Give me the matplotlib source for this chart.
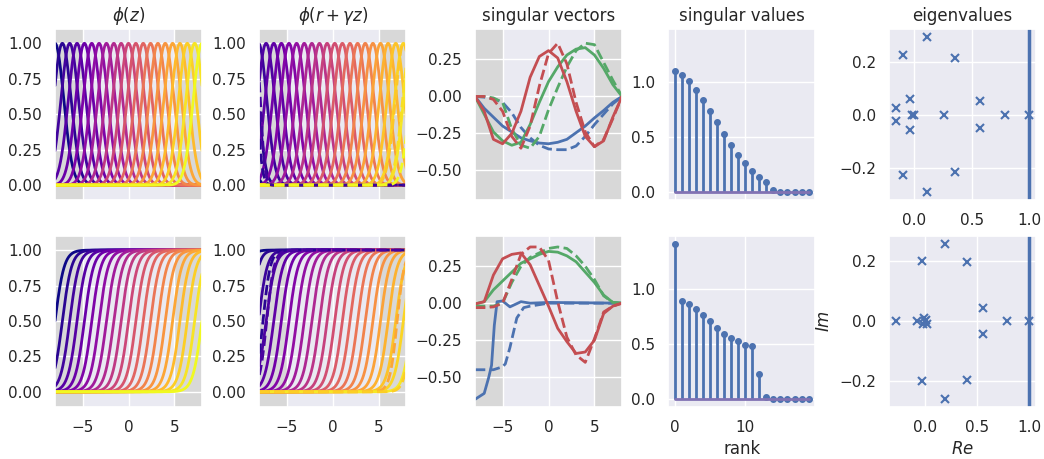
import numpy as np
import matplotlib
matplotlib.use("Agg")
import matplotlib.pyplot as plt
import seaborn as sns

sns.set_theme(style="darkgrid", context="notebook")

# basis function centres / widths
phi_centers = [-8.0, -7.2, -6.4, -5.6, -4.8, -4.0, -3.2, -2.4, -1.6, -0.8, 0.0,
               0.8, 1.6, 2.4, 3.2, 4.0, 4.8, 5.6, 6.4, 7.2, 8.0]
phi_width = 0.95
sig_scale = 0.5

# phi(r + gamma z): solid curves
rg_centers = [-9.75, -8.92, -8.09, -7.26, -6.43, -5.6, -4.77, -3.94, -3.11, -2.28,
              -1.45, -0.62, 0.21, 1.04, 1.87, 2.7, 3.53, 4.36, 5.19, 6.02, 6.85,
              7.68, 8.6]
rg_widths = [0.7, 0.8, 0.9, 0.95, 0.95, 0.95, 0.95, 0.95, 0.95, 0.95, 0.95, 0.95,
             0.95, 0.95, 0.95, 0.95, 0.95, 0.95, 0.95, 0.95, 0.95, 0.95, 0.9]
# dashed curves
rg_dash_centers = [-8.9, -8.4, 7.7, 8.5, 9.3]
rg_dash_widths = [0.6, 0.5, 0.9, 0.9, 0.9]
rg_dash_colors = [0.05, 0.1, 0.88, 0.94, 1.0]
rg_sig_dash_centers = [-7.6, -7.2, 7.0, 8.6]
rg_sig_dash_colors = [0.05, 0.12, 0.8, 0.9]

# singular vectors
sv_z = [-8, -7, -6, -5, -4, -3, -2, -1, 0, 1, 2, 3, 4, 5, 6, 7, 8]
sv_top_blue = [0, -0.08, -0.14, -0.20, -0.24, -0.28, -0.30, -0.315, -0.32, -0.31,
               -0.29, -0.245, -0.20, -0.145, -0.095, -0.04, 0]
sv_top_blue_d = [0, -0.005, -0.015, -0.04, -0.11, -0.21, -0.28, -0.33, -0.355, -0.36,
                 -0.36, -0.335, -0.27, -0.19, -0.12, -0.05, 0]
sv_top_green = [0, -0.12, -0.24, -0.30, -0.33, -0.31, -0.19, -0.04, 0.10, 0.20,
                0.28, 0.32, 0.33, 0.28, 0.19, 0.08, 0]
sv_top_green_d = [0, 0, -0.01, -0.04, -0.22, -0.33, -0.35, -0.27, -0.09, 0.06,
                  0.20, 0.31, 0.36, 0.35, 0.23, 0.11, 0]
sv_top_red = [0, -0.10, -0.29, -0.32, -0.25, -0.10, 0.13, 0.27, 0.31, 0.26,
              0.10, -0.10, -0.27, -0.34, -0.30, -0.14, 0]
sv_top_red_d = [0, 0, -0.02, -0.10, -0.27, -0.35, -0.20, 0.07, 0.29, 0.36,
                0.22, -0.04, -0.24, -0.34, -0.29, -0.15, 0]

sv_bot_blue_z = [-8, -7, -6.5, -6.2, -5.9, -5.6, -5, -4.2, -3, -2, 0, 8]
sv_bot_blue = [-0.65, -0.61, -0.50, -0.42, -0.15, 0.01, 0.015, -0.025, 0.01, 0.0, 0.005, 0.0]
sv_bot_blue_d_z = [-8, -6, -5, -4.7, -4.2, -3.45, -2.7, -2, -1, 0, 8]
sv_bot_blue_d = [-0.45, -0.45, -0.43, -0.41, -0.30, -0.10, -0.03, -0.02, -0.01, 0.0, 0.0]
sv_bot_green = [-0.005, 0.01, 0.09, 0.15, 0.21, 0.27, 0.30, 0.33, 0.35, 0.345,
                0.32, 0.28, 0.21, 0.14, 0.055, 0.005, 0]
sv_bot_green_d = [-0.02, -0.02, -0.02, 0.0, 0.14, 0.25, 0.31, 0.34, 0.37, 0.38,
                  0.37, 0.32, 0.25, 0.16, 0.05, 0.005, 0]
sv_bot_red = [-0.005, 0.01, 0.19, 0.30, 0.33, 0.34, 0.26, 0.12, -0.02, -0.17,
              -0.26, -0.34, -0.33, -0.25, -0.07, -0.02, 0]
sv_bot_red_d = [-0.03, -0.03, -0.025, 0.0, 0.16, 0.33, 0.38, 0.38, 0.29, 0.01,
                -0.23, -0.35, -0.40, -0.24, -0.06, -0.02, 0]

# singular values
ranks = list(range(20))
sval_top = [1.106, 1.07, 1.012, 0.933, 0.842, 0.739, 0.636, 0.533, 0.433, 0.342,
            0.264, 0.194, 0.142, 0.091, 0.024, 0.003, 0.001, 0.0, 0.0, 0.0]
sval_bot = [1.415, 0.891, 0.864, 0.818, 0.767, 0.709, 0.645, 0.588, 0.555, 0.530,
            0.491, 0.482, 0.227, 0.02, 0.0, 0.0, 0.0, 0.0, 0.0, 0.0]

# eigenvalues
eig_top_re = [-0.096, 0.114, 0.357, -0.161, -0.161, -0.032, -0.032, -0.015, 0.0,
              0.263, 0.570, 0.570, 0.787, 1.0, -0.096, 0.357, 0.114]
eig_top_im = [0.226, 0.295, 0.216, 0.027, -0.024, 0.059, -0.057, 0.0, 0.0,
              0.0, 0.054, -0.051, 0.0, 0.0, -0.228, -0.215, -0.292]
eig_bot_re = [-0.285, -0.032, -0.032, 0.191, 0.191, 0.401, 0.401, -0.084, -0.013,
              0.006, -0.02, 0.0, 0.013, 0.557, 0.557, 0.79, 1.0]
eig_bot_im = [0.0, 0.2, -0.2, 0.257, -0.258, 0.196, -0.196, 0.0, 0.01,
              0.004, -0.009, 0.0, -0.011, 0.044, -0.044, 0.0, 0.0]


def gauss(z, c, w):
    return np.exp(-0.5 * ((z - c) / w) ** 2)


def sigm(z, c, s):
    return 1.0 / (1.0 + np.exp(-(z - c) / s))


z = np.linspace(-8, 8, 400)
cmap = plt.get_cmap("plasma")

fig = plt.figure(figsize=(10.44, 4.59), dpi=100)
lefts = [0.0527, 0.2484, 0.455, 0.6401, 0.8515]
w = 0.1408
bottoms = [0.5643, 0.1139]
h = 0.3722

axes = [[None] * 5 for _ in range(2)]
for c in range(5):
    top = fig.add_axes([lefts[c], bottoms[0], w, h])
    if c < 4:
        bot = fig.add_axes([lefts[c], bottoms[1], w, h], sharex=top,
                           sharey=top if c >= 2 else None)
    else:
        bot = fig.add_axes([lefts[c], bottoms[1], w, h])
    axes[0][c] = top
    axes[1][c] = bot

for r in range(2):
    for c in range(3):
        ax = axes[r][c]
        ax.axvspan(-8, -5, color="#d8d8d8", zorder=0.2, lw=0)
        ax.axvspan(5, 8, color="#d8d8d8", zorder=0.2, lw=0)
        ax.set_xlim(-8, 8)

# phi(z)
n = len(phi_centers)
for i, cen in enumerate(phi_centers):
    axes[0][0].plot(z, gauss(z, cen, phi_width), color=cmap(i / (n - 1)), lw=2)
    axes[1][0].plot(z, sigm(z, cen, sig_scale), color=cmap(i / (n - 1)), lw=2)

# phi(r + gamma z)
n2 = len(rg_centers)
for i, (cen, wd) in enumerate(zip(rg_centers, rg_widths)):
    col = cmap(0.96 * i / (n2 - 1))
    axes[0][1].plot(z, gauss(z, cen, wd), color=col, lw=2)
    axes[1][1].plot(z, sigm(z, cen, sig_scale * wd / 0.95), color=col, lw=2)
for cen, wd, col in zip(rg_dash_centers, rg_dash_widths, rg_dash_colors):
    axes[0][1].plot(z, gauss(z, cen, wd), color=cmap(col), lw=2, ls="--")
for cen, col in zip(rg_sig_dash_centers, rg_sig_dash_colors):
    axes[1][1].plot(z, sigm(z, cen, 0.4), color=cmap(col), lw=2, ls="--")

for r in range(2):
    for c in range(2):
        axes[r][c].set_ylim(-0.105, 1.1)
        axes[r][c].set_yticks([0, 0.25, 0.5, 0.75, 1.0])

# singular vectors
ax = axes[0][2]
ax.plot(sv_z, sv_top_blue, color="C0", lw=2)
ax.plot(sv_z, sv_top_blue_d, color="C0", lw=2, ls="--")
ax.plot(sv_z, sv_top_green, color="C2", lw=2)
ax.plot(sv_z, sv_top_green_d, color="C2", lw=2, ls="--")
ax.plot(sv_z, sv_top_red, color="C3", lw=2)
ax.plot(sv_z, sv_top_red_d, color="C3", lw=2, ls="--")
ax = axes[1][2]
ax.plot(sv_bot_blue_z, sv_bot_blue, color="C0", lw=2)
ax.plot(sv_bot_blue_d_z, sv_bot_blue_d, color="C0", lw=2, ls="--")
ax.plot(sv_z, sv_bot_green, color="C2", lw=2)
ax.plot(sv_z, sv_bot_green_d, color="C2", lw=2, ls="--")
ax.plot(sv_z, sv_bot_red, color="C3", lw=2)
ax.plot(sv_z, sv_bot_red_d, color="C3", lw=2, ls="--")
ax.set_ylim(-0.70, 0.455)
ax.set_yticks([-0.5, -0.25, 0, 0.25])

# singular values
for r, vals in enumerate([sval_top, sval_bot]):
    ax = axes[r][3]
    ml, sl, bl = ax.stem(ranks, vals, linefmt="C0-", markerfmt="C0o", basefmt="C4-")
    ml.set_markersize(4)
    sl.set_linewidth(2)
    bl.set_linewidth(2)
axes[1][3].set_xticks([0, 10])
axes[1][3].set_xlabel("rank")

# eigenvalues
for r, (re, im) in enumerate([(eig_top_re, eig_top_im), (eig_bot_re, eig_bot_im)]):
    ax = axes[r][4]
    ax.plot(re, im, "x", color="C0", ms=5.5, mew=1.5)
    ax.axvline(1.0, color="C0", lw=2.5)
    ax.set_yticks([-0.2, 0, 0.2])
    ax.set_xticks([0, 0.5, 1.0])
axes[1][4].set_xlabel("$Re$")
axes[1][4].set_ylabel("$Im$")

for c in range(4):
    plt.setp(axes[0][c].get_xticklabels(), visible=False)
for c in range(3):
    axes[1][c].set_xticks([-5, 0, 5])

titles = [r"$\phi(z)$", r"$\phi(r + \gamma z)$", "singular vectors",
          "singular values", "eigenvalues"]
for c, t in enumerate(titles):
    axes[0][c].set_title(t)

fig.savefig("out.png", dpi=100)
